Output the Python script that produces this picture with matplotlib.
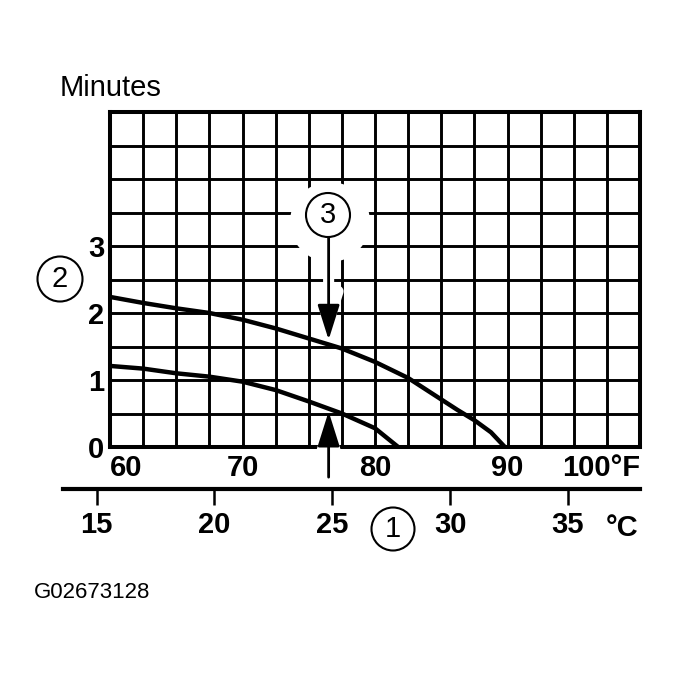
import matplotlib
matplotlib.use('Agg')
import matplotlib.pyplot as plt
from matplotlib.patches import Circle
from matplotlib.transforms import IdentityTransform
import numpy as np

plt.rcParams['font.family'] = ['Liberation Sans', 'DejaVu Sans']

# ---------------- data ----------------
temp_f_ticks = [60, 70, 80, 90, 100]
temp_f_labels = ['60', '70', '80', '90', '100°F']
minute_ticks = [0, 1, 2, 3]
minute_labels = ['0', '1', '2', '3']
temp_c_ticks = [15, 20, 25, 30, 35]
temp_c_labels = ['15', '20', '25', '30', '35']

upper_f = [60, 62.5, 65, 67.5, 70, 72.5, 75, 77.5, 80, 81.25, 82.5,
           83.75, 85, 86.25, 87.5, 88.75, 89.8]
upper_min = [2.24, 2.15, 2.07, 2.0, 1.9, 1.77, 1.62, 1.47, 1.27, 1.15, 1.03,
             0.87, 0.71, 0.55, 0.40, 0.22, 0.0]
lower_f = [60, 62.5, 65, 67.5, 70, 72.5, 75, 77.5, 80, 81.75]
lower_min = [1.21, 1.17, 1.10, 1.05, 0.975, 0.85, 0.68, 0.50, 0.28, 0.0]

marker_f = 76.5            # arrows at 25 °C mark
arrow3_min = (3.13, 1.60)  # tail, tip
arrow1_min = (-0.45, 0.53)  # tail, tip

# ---------------- figure ----------------
W, H = 679, 676
fig = plt.figure(figsize=(W / 100, H / 100), dpi=100)
fig.patch.set_facecolor('white')

ax = fig.add_axes([110 / W, 1 - 447 / H, 530 / W, 335 / H])
ax.set_xlim(60, 100)
ax.set_ylim(0, 5)
ax.set_xticks(temp_f_ticks)
ax.set_xticklabels(temp_f_labels)
ax.set_xticks(np.arange(60, 100.01, 2.5), minor=True)
ax.set_yticks(minute_ticks)
ax.set_yticklabels(minute_labels)
ax.set_yticks(np.arange(0, 5.01, 0.5), minor=True)
ax.tick_params(which='both', length=0)
ax.tick_params(axis='x', pad=5, labelsize=21)
ax.tick_params(axis='y', pad=4, labelsize=21)
for lab in ax.get_xticklabels() + ax.get_yticklabels():
    lab.set_fontweight('bold')
xt = ax.get_xticklabels()
xt[0].set_ha('left')
xt[-1].set_ha('right')
ax.grid(which='both', color='black', lw=2.1)
ax.set_axisbelow(True)
for s in ax.spines.values():
    s.set_linewidth(2.9)

# white halo around circle 3 (breaks grid lines)
halo = Circle((330, H - 222), 40, transform=IdentityTransform(),
              fc='white', ec='none', zorder=2.8)
ax.add_artist(halo)

# curves
ax.plot(upper_f, upper_min, color='black', lw=3.2, zorder=4,
        solid_capstyle='butt')
ax.plot(lower_f, lower_min, color='black', lw=3.2, zorder=4,
        solid_capstyle='butt')

# arrows: white halo under curves, black arrow on top
style = '-|>,head_length=1.08,head_width=0.34'
for tail, tip in [arrow3_min, arrow1_min]:
    ax.annotate('', xy=(marker_f, tip), xytext=(marker_f, tail),
                arrowprops=dict(arrowstyle=style, color='white', lw=8,
                                shrinkA=0, shrinkB=0, mutation_scale=20),
                zorder=3, annotation_clip=False)
    ax.annotate('', xy=(marker_f, tip), xytext=(marker_f, tail),
                arrowprops=dict(arrowstyle=style, color='black', lw=2,
                                shrinkA=0, shrinkB=0, mutation_scale=20),
                zorder=6, annotation_clip=False)

# ---------------- Celsius scale ----------------
cax = fig.add_axes([63 / W, 1 - 489 / H, 577 / W, 0.0001])
cax.set_xlim(13.57, 38.06)
cax.set_ylim(0, 1)
cax.set_yticks([])
for side in ['top', 'left', 'right']:
    cax.spines[side].set_visible(False)
cax.spines['bottom'].set_linewidth(3.0)
cax.patch.set_visible(False)
cax.set_xticks(temp_c_ticks)
cax.set_xticklabels(temp_c_labels)
cax.tick_params(axis='x', direction='out', length=11.5, width=1.8,
                pad=4, labelsize=21)
for lab in cax.get_xticklabels():
    lab.set_fontweight('bold')

# ---------------- overlay (pixel coords) ----------------
ov = fig.add_axes([0, 0, 1, 1], zorder=10)
ov.set_xlim(0, W)
ov.set_ylim(H, 0)
ov.axis('off')
ov.patch.set_visible(False)

ov.text(60, 96, 'Minutes', ha='left', va='baseline', fontsize=21)
ov.text(34, 598, 'G02673128', ha='left', va='baseline', fontsize=16)
ov.text(638, 536, '°C', ha='right', va='baseline', fontsize=21,
        fontweight='bold')

for cx, cy, r, s in [(328, 215, 22, '3'), (60, 279, 22.5, '2'),
                     (393, 529, 21.5, '1')]:
    ov.add_patch(Circle((cx, cy), r, fc='white', ec='black', lw=1.5))
    ov.text(cx, cy + 8, s, ha='center', va='baseline', fontsize=21)

fig.savefig('out.png', dpi=100)
